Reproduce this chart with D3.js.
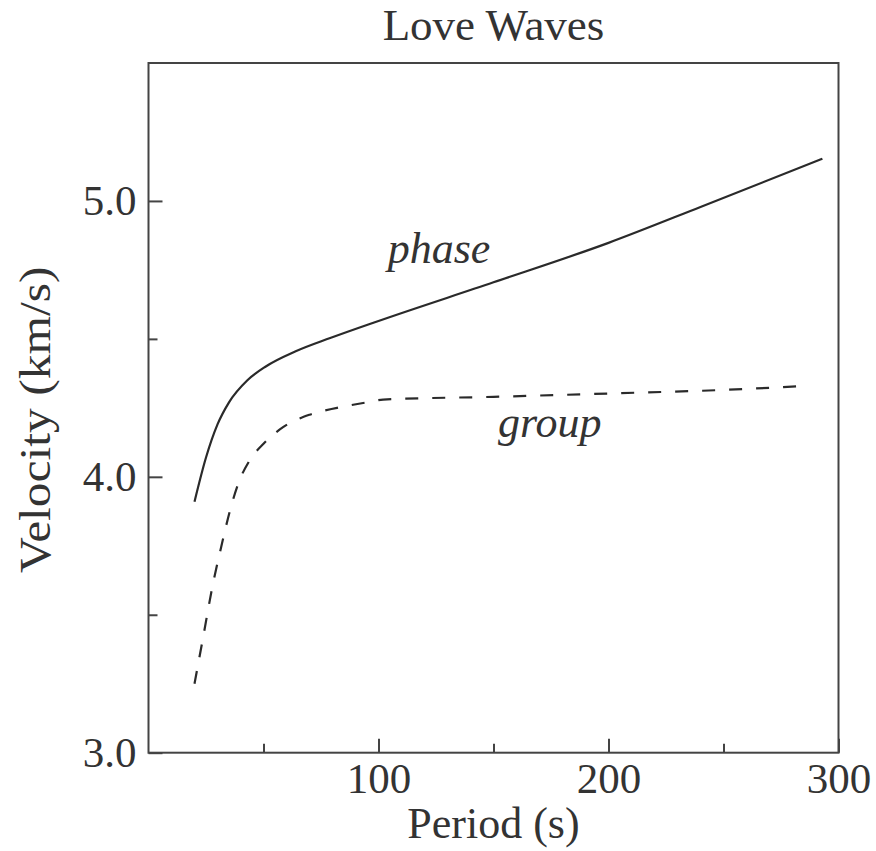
<!DOCTYPE html>
<html>
<head>
<meta charset="utf-8">
<script src="https://cdn.jsdelivr.net/npm/d3@7/dist/d3.min.js"></script>
<style>
  html, body { margin: 0; padding: 0; background: #fff; }
  svg { display: block; }
  text { font-family: "Liberation Serif", "DejaVu Serif", serif; fill: #333; }
</style>
</head>
<body>
<svg id="chart" width="876" height="851"></svg>
<script>
// ---- data ----
const phasePeriod = [20, 25, 30, 35, 43, 51, 64, 79, 100, 150, 200, 240, 293];
const phaseVel    = [3.91, 4.07, 4.19, 4.27, 4.35, 4.40, 4.455, 4.503, 4.565, 4.705, 4.848, 4.978, 5.153];
const groupPeriod = [20, 24, 27.5, 32, 35.5, 39, 44, 50, 58.5, 70, 82, 95, 102, 150, 200, 250, 287];
const groupVel    = [3.25, 3.43, 3.59, 3.76, 3.88, 3.975, 4.06, 4.12, 4.18, 4.225, 4.25, 4.27, 4.28, 4.29, 4.302, 4.315, 4.33];
const xMajorTicks = [100, 200, 300];
const xMinorTicks = [50, 150, 250];
const yMajorTicks = [3.0, 4.0, 5.0];
const yMinorTicks = [3.5, 4.5];
const titleText = "Love Waves";
const xTitle = "Period (s)";
const yTitle = "Velocity (km/s)";
const seriesLabels = [
  { text: "phase", period: 104, vel: 4.776 },
  { text: "group", period: 152, vel: 4.145 }
];

// ---- layout ----
const mLeft = 148.5, mRight = 838.5, mTop = 63, mBottom = 752.7;
const svg = d3.select("#chart");
const x = d3.scaleLinear().domain([0, 300]).range([mLeft, mRight]);
const y = d3.scaleLinear().domain([3, 5.5]).range([mBottom, mTop]);

const axisColor = "#444";
const lineColor = "#2a2a2a";

// frame
svg.append("rect")
  .attr("x", mLeft).attr("y", mTop)
  .attr("width", mRight - mLeft).attr("height", mBottom - mTop)
  .attr("fill", "none").attr("stroke", axisColor).attr("stroke-width", 2);

// x axis (ticks inward)
const gx = svg.append("g").attr("transform", `translate(0,${mBottom})`);
gx.call(d3.axisBottom(x).tickValues(xMajorTicks).tickSize(-14).tickFormat(d3.format("d")));
gx.append("g").call(d3.axisBottom(x).tickValues(xMinorTicks).tickSize(-9).tickFormat(""));
gx.selectAll(".domain").remove();
gx.selectAll("line").attr("stroke", axisColor).attr("stroke-width", 2);
gx.selectAll("text").style("font-size", "43px").attr("fill", "#333")
  .attr("font-family", "Liberation Serif, serif").attr("dy", "0.71em").attr("y", 10);

// y axis (ticks inward)
const gy = svg.append("g").attr("transform", `translate(${mLeft},0)`);
gy.call(d3.axisLeft(y).tickValues(yMajorTicks).tickSize(-14).tickFormat(d3.format(".1f")));
gy.append("g").call(d3.axisLeft(y).tickValues(yMinorTicks).tickSize(-9).tickFormat(""));
gy.selectAll(".domain").remove();
gy.selectAll("line").attr("stroke", axisColor).attr("stroke-width", 2);
gy.selectAll("text").style("font-size", "43px").attr("fill", "#333")
  .attr("font-family", "Liberation Serif, serif").attr("x", -12);

// lines
const line = d3.line().x(d => x(d[0])).y(d => y(d[1])).curve(d3.curveMonotoneX);
const phaseData = phasePeriod.map((p, i) => [p, phaseVel[i]]);
const groupData = groupPeriod.map((p, i) => [p, groupVel[i]]);

svg.append("path").datum(phaseData).attr("d", line)
  .attr("fill", "none").attr("stroke", lineColor).attr("stroke-width", 2.2);
svg.append("path").datum(groupData).attr("d", line)
  .attr("fill", "none").attr("stroke", lineColor).attr("stroke-width", 2.2)
  .attr("stroke-dasharray", "13,14");

// series labels
svg.selectAll("text.series").data(seriesLabels).enter().append("text")
  .attr("class", "series")
  .attr("x", d => x(d.period)).attr("y", d => y(d.vel))
  .attr("font-style", "italic").style("font-size", "44px")
  .text(d => d.text);

// titles
svg.append("text").attr("x", (mLeft + mRight) / 2).attr("y", 40)
  .attr("text-anchor", "middle").style("font-size", "45px").text(titleText);
svg.append("text").attr("x", (mLeft + mRight) / 2).attr("y", 838)
  .attr("text-anchor", "middle").style("font-size", "44px").text(xTitle);
svg.append("text")
  .attr("transform", `translate(50,${(mTop + mBottom) / 2 + 12}) rotate(-90) scale(1.1,1)`)
  .attr("text-anchor", "middle").style("font-size", "45px").text(yTitle);
</script>
</body>
</html>
